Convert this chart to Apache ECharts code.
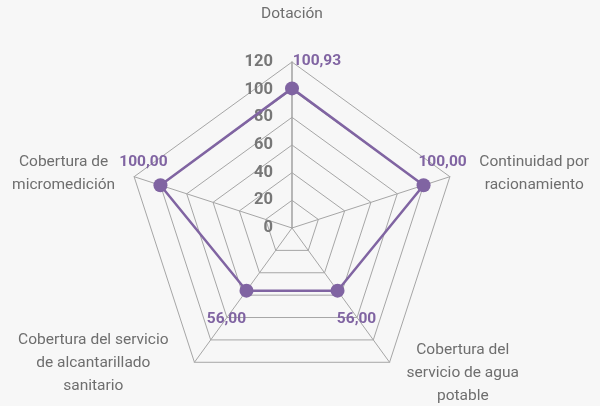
<!DOCTYPE html>
<html>
<head>
<meta charset="utf-8">
<script src="https://cdn.jsdelivr.net/npm/echarts@6/dist/echarts.min.js"></script>
<style>
html, body { margin: 0; padding: 0; background: #f7f7f7; }
#chart { width: 600px; height: 406px; }
</style>
</head>
<body>
<div id="chart"></div>
<script>
// indicadores (ECharts los recorre en sentido antihorario desde arriba)
const indicadores = [
    'Dotación',
    'Cobertura de\nmicromedición',
    'Cobertura del servicio\nde alcantarillado\nsanitario',
    'Cobertura del\nservicio de agua\npotable',
    'Continuidad por\nracionamiento'
];
const valores = [100.93, 100.00, 56.00, 56.00, 100.00];
const maxEje = 120;

const morado = '#8064a2';
const fuente = 'Roboto, "Liberation Sans", sans-serif';

// ajustes de cada nombre: separación y alineación
const nombreAjuste = [
    { gap: 36, style: {} },
    { gap: 20, style: { padding: [7, 0, 0, 0] } },
    { gap: 44, style: { verticalAlign: 'bottom' } },
    { gap: 29, style: { padding: [0, 0, 25, 0] } },
    { gap: 31, style: { padding: [14, 0, 0, 0] } }
];
// desplazamiento de las etiquetas de valor respecto a cada punto
const etiquetaOffset = [[25, -27], [-17, -23], [-20, 28], [19, 28], [19, -23]];

const fmt = v => v.toFixed(2).replace('.', ',');

const chart = echarts.init(document.getElementById('chart'));

const labelItems = valores.map((v, i) => ({
    value: valores.map((w, j) => (j === i ? w : '-')),
    symbol: 'circle',
    symbolSize: 1,
    itemStyle: { color: 'rgba(0,0,0,0)' },
    lineStyle: { opacity: 0, width: 0 },
    label: {
        show: true,
        position: 'inside',
        offset: etiquetaOffset[i],
        color: morado,
        fontFamily: fuente,
        fontWeight: 'bold',
        fontSize: 15.5,
        formatter: p => (typeof p.value === 'number' ? fmt(p.value) : '')
    }
}));

chart.setOption({
    backgroundColor: '#f7f7f7',
    radar: {
        center: [292, 228],
        radius: 166,
        startAngle: 90,
        shape: 'polygon',
        splitNumber: 6,
        axisName: {
            color: '#6e6e6e',
            fontFamily: fuente,
            fontSize: 15.5,
            formatter: t => t.split('\n').map(s => '{c|' + s + '}').join('\n'),
            rich: {
                c: { align: 'center', color: '#6e6e6e', fontFamily: fuente, fontSize: 15.5, lineHeight: 23 }
            }
        },
        indicator: indicadores.map((n, i) => ({
            name: n,
            min: 0,
            max: maxEje,
            nameGap: nombreAjuste[i].gap,
            nameTextStyle: nombreAjuste[i].style,
            axisLine: { lineStyle: { width: i === 0 ? 1.6 : 1 } },
            axisLabel: i === 0 ? {
                show: true,
                margin: 19,
                color: '#777777',
                fontFamily: fuente,
                fontWeight: 'bold',
                fontSize: 16.5
            } : { show: false }
        })),
        axisLine: { lineStyle: { color: '#a6a6a6' } },
        splitLine: { lineStyle: { color: '#a6a6a6', width: 1 } },
        splitArea: { show: false },
        axisTick: { show: false },
        axisLabel: { show: false }
    },
    series: [{
        type: 'radar',
        silent: true,
        data: [
            {
                value: valores,
                symbol: 'circle',
                symbolSize: 14,
                itemStyle: { color: morado },
                lineStyle: { color: morado, width: 2.5 },
                label: { show: false }
            }
        ].concat(labelItems)
    }]
});
</script>
</body>
</html>
